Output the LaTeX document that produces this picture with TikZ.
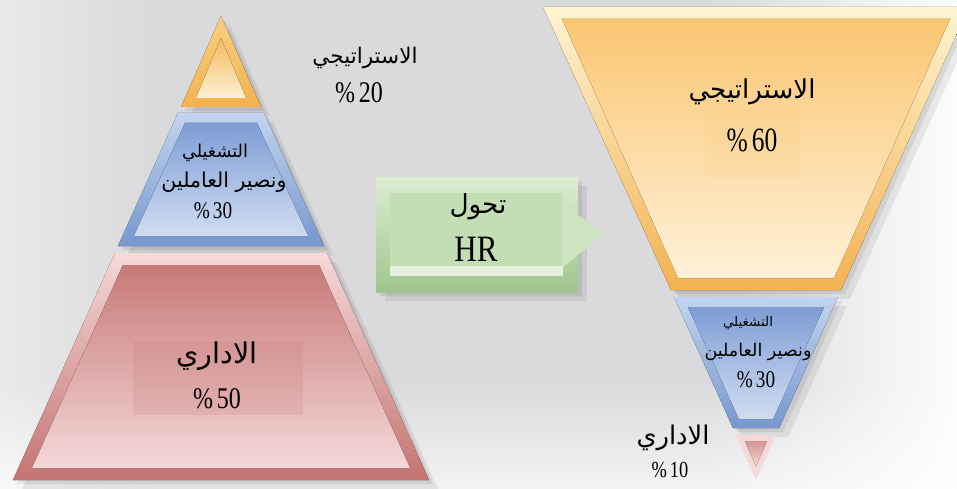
\documentclass[tikz,border=0pt]{standalone}
\usepackage{fontspec}
\usepackage{graphicx}
\setmainfont{Liberation Serif}
\newfontfamily\arfont[Script=Arabic]{DejaVu Sans}
\TeXXeTstate=1
\usetikzlibrary{fadings}
\definecolor{bgg}{HTML}{DADADC}
\definecolor{yOT}{HTML}{F9CF80}
\definecolor{yOB}{HTML}{F3B24F}
\definecolor{yIT}{HTML}{F5BB5A}
\definecolor{yIB}{HTML}{FDEFD5}
\definecolor{y2OT}{HTML}{FEF3D2}
\definecolor{y2OB}{HTML}{F4B251}
\definecolor{y2IT}{HTML}{FBC672}
\definecolor{y2IB}{HTML}{FEF1D8}
\definecolor{bOT}{HTML}{C2D4EF}
\definecolor{bOB}{HTML}{7797CF}
\definecolor{bIT}{HTML}{7E9DD5}
\definecolor{bIB}{HTML}{D0DDF2}
\definecolor{rOT}{HTML}{F5D8D8}
\definecolor{rOB}{HTML}{C47472}
\definecolor{rIT}{HTML}{C77A78}
\definecolor{rIB}{HTML}{F5D8D8}
\definecolor{gOT}{HTML}{DCEDD2}
\definecolor{gOB}{HTML}{9EC58B}
\definecolor{gIn}{HTML}{C3DEB4}
\definecolor{gLt}{HTML}{E5F1DE}
\definecolor{gTab}{HTML}{CFE5C2}
\pgfdeclarehorizontalshading{bgshade}{100bp}{color(0bp)=(white); color(13bp)=(white); color(33bp)=(bgg); color(62bp)=(bgg); color(76bp)=(white); color(100bp)=(white)}
\newcommand{\arw}[2]{\resizebox{#1pt}{!}{\arfont #2}}
\newcommand{\pct}[3]{\scalebox{#2}[1]{\fontsize{#1}{#1}\selectfont\%\,#3}}
\tikzset{
  lbl/.style={inner sep=0pt, text=black},
  shd/.style={fill=black, opacity=0.07},
}
\begin{document}
\begin{tikzpicture}[x=1pt,y=-1pt]
\useasboundingbox (0,0) rectangle (957,489);
\fill[white] (0,0) rectangle (957,489);
\fill[shading=bgshade] (0,0) rectangle (957,489);
\fill[white, path fading=north, opacity=0.7] (0,380) rectangle (957,489);

% ---- soft shadows (two offset layers)
\foreach \s in {4,9}{
\begin{scope}[shift={(\s,\s)}]
\fill[shd] (221,16) -- (261,107) -- (181,107) -- cycle;
\fill[shd] (178,113) -- (264,113) -- (324,246) -- (118,246) -- cycle;
\fill[shd] (115,253) -- (327,253) -- (429,480) -- (13,480) -- cycle;
\fill[shd] (376,177) rectangle (578,292);
\fill[shd] (543,7) -- (969,7) -- (841,290) -- (671,290) -- cycle;
\fill[shd] (674,297) -- (838,297) -- (779,428) -- (733,428) -- cycle;
\end{scope}}

% ---- left pyramid
\fill[top color=yOT, bottom color=yOB] (221,16) -- (261,107) -- (181,107) -- cycle;
\fill[top color=yIT, bottom color=yIB] (221,38) -- (246,98) -- (196,98) -- cycle;

\fill[top color=bOT, bottom color=bOB] (178,113) -- (264,113) -- (324,246) -- (118,246) -- cycle;
\fill[top color=bIT, bottom color=bIB] (185,123) -- (257,123) -- (308,236) -- (134,236) -- cycle;

\fill[top color=rOT, bottom color=rOB] (115,253) -- (327,253) -- (429,480) -- (13,480) -- cycle;
\fill[top color=rIT, bottom color=rIB] (123,265) -- (319,265) -- (410,468) -- (32,468) -- cycle;
\fill[rOB, opacity=0.18] (133,342) rectangle (303,415);

% ---- green arrow box
\fill[top color=gOT, bottom color=gOB] (376,177) rectangle (578,292);
\fill[gTab] (562,203) -- (604,234) -- (562,268) -- cycle;
\fill[gIn] (390,193) rectangle (563,276);
\fill[gLt] (390,266) rectangle (563,276);

% ---- right funnel
\fill[top color=y2OT, bottom color=y2OB] (543,7) -- (969,7) -- (841,290) -- (671,290) -- cycle;
\fill[top color=y2IT, bottom color=y2IB] (562,19) -- (950,19) -- (834,278) -- (678,278) -- cycle;
\fill[y2IT, opacity=0.12] (705,108) rectangle (800,177);

\fill[top color=bOT, bottom color=bOB] (674,297) -- (838,297) -- (779,428) -- (733,428) -- cycle;
\fill[top color=bIT, bottom color=bIB] (688,307) -- (824,307) -- (773,419) -- (739,419) -- cycle;

\fill[rOT] (736,435) -- (776,435) -- (756,480) -- cycle;
\fill[top color=rIT!80, bottom color=rIB] (745,441) -- (767,441) -- (756,466) -- cycle;

% ---- texts
\node[lbl] (lstrat) at (365,58) {\arw{105}{\beginR الاستراتيجي\endR}};
\node[lbl] (lstratp) at (359,93) {\pct{30}{0.8}{20}};

\node[lbl] (lop1) at (215,153) {\arw{66}{\beginR التشغيلي\endR}};
\node[lbl] (lop2) at (224,182) {\arw{125}{\beginR ونصير العاملين\endR}};
\node[lbl] (lopp) at (213,211) {\pct{24}{0.8}{30}};

\node[lbl] (ladm) at (217,356) {\arw{81}{\beginR الاداري\endR}};
\node[lbl] (ladmp) at (217,399) {\pct{30}{0.8}{50}};

\node[lbl] (tr1) at (478,207) {\arw{57}{\beginR تحول\endR}};
\node[lbl] (tr2) at (476,249) {\scalebox{1}[1.2]{\fontsize{31}{31}\selectfont HR}};

\node[lbl] (rstrat) at (752,92) {\arw{127}{\beginR الاستراتيجي\endR}};
\node[lbl] (rstratp) at (752,140) {\pct{34}{0.75}{60}};

\node[lbl] (rop1) at (748,323) {\arw{50}{\beginR التشغيلي\endR}};
\node[lbl] (rop2) at (758,352) {\arw{107}{\beginR ونصير العاملين\endR}};
\node[lbl] (ropp) at (756,380) {\pct{24}{0.8}{30}};

\node[lbl] (radm) at (673,438) {\arw{73}{\beginR الاداري\endR}};
\node[lbl] (radmp) at (670,470) {\pct{23}{0.8}{10}};
\end{tikzpicture}
\end{document}
